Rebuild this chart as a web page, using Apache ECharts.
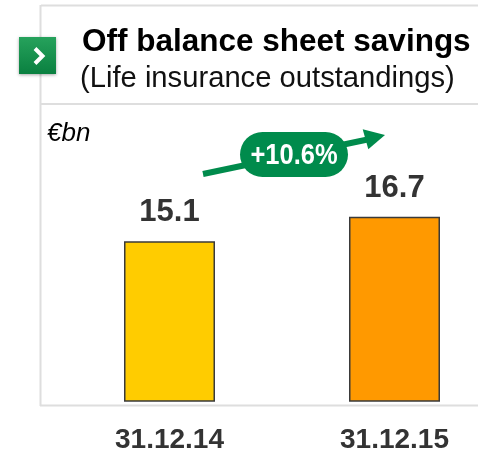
<!DOCTYPE html>
<html>
<head>
<meta charset="utf-8">
<title>Off balance sheet savings</title>
<script src="https://cdn.jsdelivr.net/npm/echarts@6/dist/echarts.min.js"></script>
<style>
  html, body { margin: 0; padding: 0; background: #fff; }
  #chart { width: 478px; height: 452px; }
</style>
</head>
<body>
<div id="chart"></div>
<script>
// Life insurance outstandings, €bn
const categories = ['31.12.14', '31.12.15'];
const values = [15.1, 16.7];
const barColors = ['#FFCC00', '#FF9900'];

const growthPct = ((values[1] / values[0] - 1) * 100).toFixed(1);

const sans = '"Liberation Sans", Arial, Helvetica, sans-serif';
const frameColor = '#dedede';
const green = '#008b4c';

const chart = echarts.init(document.getElementById('chart'));

chart.setOption({
  animation: false,
  grid: { left: 57, top: 121, width: 450, bottom: 51, outerBoundsMode: 'none' },
  xAxis: {
    type: 'category',
    data: categories,
    axisLine: { show: false },
    axisTick: { show: false },
    axisLabel: {
      margin: 25,
      fontFamily: sans,
      fontWeight: 'bold',
      fontSize: 28,
      color: '#333'
    }
  },
  yAxis: {
    type: 'value',
    min: 4.6,
    max: 23,
    show: false,
    splitLine: { show: false }
  },
  series: [{
    type: 'bar',
    barWidth: 91,
    data: values.map((v, i) => ({
      value: v,
      itemStyle: { color: barColors[i] }
    })),
    itemStyle: { borderColor: '#3a3a3a', borderWidth: 1.5 },
    label: {
      show: true,
      position: 'top',
      distance: 13,
      fontFamily: sans,
      fontWeight: 'bold',
      fontSize: 31,
      color: '#333'
    }
  }],
  graphic: [
    // panel frame
    { type: 'line', shape: { x1: 41, y1: 5.5, x2: 478, y2: 5.5 }, style: { stroke: frameColor, lineWidth: 2 } },
    { type: 'line', shape: { x1: 40.5, y1: 5, x2: 40.5, y2: 406 }, style: { stroke: frameColor, lineWidth: 2 } },
    { type: 'line', shape: { x1: 41, y1: 104, x2: 478, y2: 104 }, style: { stroke: frameColor, lineWidth: 2 } },
    { type: 'line', shape: { x1: 40, y1: 405.5, x2: 478, y2: 405.5 }, style: { stroke: frameColor, lineWidth: 2 } },
    // header badge
    {
      type: 'rect',
      shape: { x: 19, y: 37, width: 37, height: 37 },
      style: {
        fill: new echarts.graphic.LinearGradient(0, 0, 0, 1, [
          { offset: 0, color: '#26a25c' },
          { offset: 1, color: '#0a8040' }
        ]),
        shadowBlur: 3, shadowColor: 'rgba(0,0,0,0.35)', shadowOffsetY: 1
      }
    },
    {
      type: 'polyline',
      shape: { points: [[35, 48.5], [42.5, 56], [35, 63.5]] },
      style: { stroke: '#fff', lineWidth: 4, fill: null, lineJoin: 'miter' }
    },
    // header text
    {
      type: 'text', x: 82, y: 26,
      style: {
        text: 'Off balance sheet savings',
        font: 'bold 31.5px ' + sans,
        fill: '#000'
      }
    },
    {
      type: 'text', x: 80, y: 64,
      style: {
        text: '(Life insurance outstandings)',
        font: '29.2px ' + sans,
        fill: '#111'
      }
    },
    // unit
    {
      type: 'text', x: 47, y: 121,
      style: {
        text: '€bn',
        font: 'italic 26px ' + sans,
        fill: '#000'
      }
    },
    // growth arrow
    {
      type: 'line',
      shape: { x1: 203, y1: 174, x2: 370, y2: 139 },
      style: { stroke: green, lineWidth: 6 }
    },
    {
      type: 'polygon',
      shape: { points: [[362.7, 129.3], [385, 135], [368.3, 149.3]] },
      style: { fill: green }
    },
    {
      type: 'rect',
      shape: { x: 240, y: 132, width: 108, height: 45, r: 22.5 },
      style: { fill: green }
    },
    {
      type: 'text', x: 294, y: 156, scaleX: 0.85,
      style: {
        text: '+' + growthPct + '%',
        font: 'bold 30px ' + sans,
        fill: '#fff', align: 'center', verticalAlign: 'middle'
      }
    }
  ]
});
</script>
</body>
</html>
